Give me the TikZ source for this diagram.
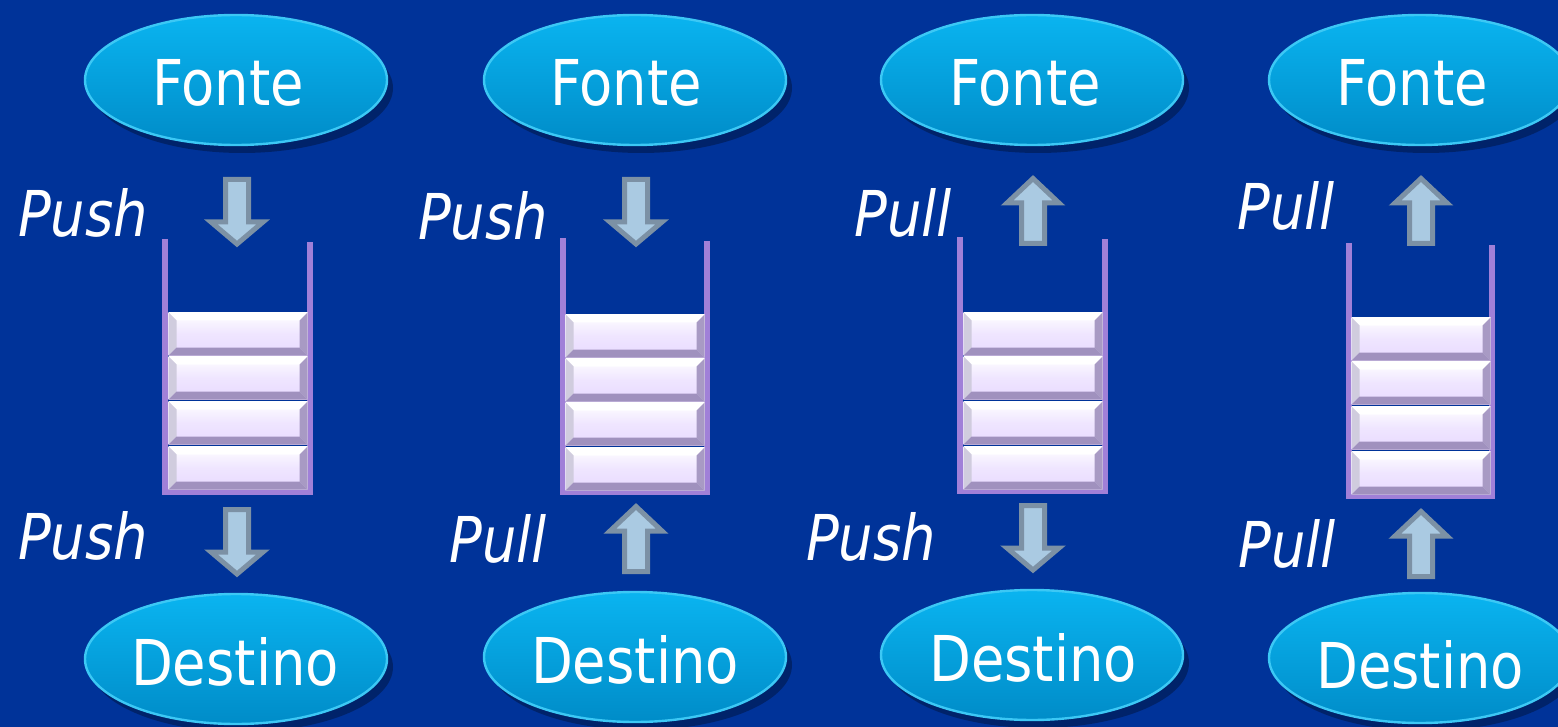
\documentclass[tikz,border=0pt]{standalone}
\usepackage{fontspec}
\setmainfont[FakeStretch=0.86]{DejaVu Sans}
\usetikzlibrary{shapes.geometric,shadows}

\definecolor{fundo}{RGB}{0,51,153}
\definecolor{cianoA}{RGB}{10,180,240}
\definecolor{cianoB}{RGB}{0,140,200}
\definecolor{cianoBorda}{RGB}{60,200,245}
\definecolor{lilas}{RGB}{232,218,255}
\definecolor{bevelEsq}{RGB}{208,204,222}
\definecolor{bevelDir}{RGB}{168,154,196}
\definecolor{bevelInf}{RGB}{160,145,190}
\definecolor{roxo}{RGB}{160,128,216}
\definecolor{setaFill}{RGB}{170,202,226}
\definecolor{setaBorda}{RGB}{124,145,165}

\tikzset{
  elipse/.style={shape=ellipse, top color=cianoA, bottom color=cianoB, draw=cianoBorda, line width=1.2pt,
    minimum width=151pt, minimum height=65pt, inner sep=0,
    drop shadow={shadow xshift=3pt, shadow yshift=-4pt, opacity=0.3, fill=black}},
  texto/.style={text=white, inner sep=0, font=\fontsize{31.6}{36}\selectfont},
  rotulo/.style={text=white, inner sep=0, font=\fontsize{31.6}{36}\selectfont\itshape},
  parede/.style={draw=roxo, line width=3pt},
  seta/.style={fill=setaFill, draw=setaBorda, line width=2.5pt},
  bloco/.style={shape=rectangle, inner sep=0, minimum width=69.5pt, minimum height=21.5pt,
    top color=white, bottom color=lilas, middle color=lilas!70!white,
    path picture={
      \fill[white] (path picture bounding box.north west) -- (path picture bounding box.north east)
        -- ([xshift=-4pt,yshift=-4pt]path picture bounding box.north east)
        -- ([xshift=4pt,yshift=-4pt]path picture bounding box.north west) -- cycle;
      \fill[bevelEsq] (path picture bounding box.north west) -- ([xshift=4pt,yshift=-4pt]path picture bounding box.north west)
        -- ([xshift=4pt,yshift=4pt]path picture bounding box.south west) -- (path picture bounding box.south west) -- cycle;
      \fill[bevelDir] (path picture bounding box.north east) -- ([xshift=-4pt,yshift=-4pt]path picture bounding box.north east)
        -- ([xshift=-4pt,yshift=4pt]path picture bounding box.south east) -- (path picture bounding box.south east) -- cycle;
      \fill[bevelInf] (path picture bounding box.south west) -- ([xshift=4pt,yshift=4pt]path picture bounding box.south west)
        -- ([xshift=-4pt,yshift=4pt]path picture bounding box.south east) -- (path picture bounding box.south east) -- cycle;
    }}
}

% block arrows: #1 = centre x, #2 = top (down) or tip (up)
\newcommand{\setabaixo}[2]{\draw[seta] (#1-11.5,#2+2.5) -- (#1+11.5,#2+2.5) -- (#1+11.5,#2+45) -- (#1+26,#2+45) -- (#1,#2+67) -- (#1-26,#2+45) -- (#1-11.5,#2+45) -- cycle;}
\newcommand{\setacima}[2]{\draw[seta] (#1,#2+3.5) -- (#1+26,#2+28) -- (#1+11.5,#2+28) -- (#1+11.5,#2+68.5) -- (#1-11.5,#2+68.5) -- (#1-11.5,#2+28) -- (#1-26,#2+28) -- cycle;}

\begin{document}
\begin{tikzpicture}[x=0.5pt, y=-0.5pt]
  \useasboundingbox (0,0) rectangle (1558,727);
  \fill[fundo] (0,0) rectangle (1558,727);

  % Fonte / Destino:
  \node[elipse] (fonte1) at (236,80){} node[texto] (tf1) at (228,83){Fonte};
  \node[elipse] (fonte2) at (635,80){} node[texto] (tf2) at (626,83){Fonte};
  \node[elipse] (fonte3) at (1032,80){} node[texto] (tf3) at (1025,83){Fonte};
  \node[elipse] (fonte4) at (1420,80){} node[texto] (tf4) at (1412,83){Fonte};
  \node[elipse] (destino1) at (236,659){} node[texto] (td1) at (235,662){Destino};
  \node[elipse] (destino2) at (635,657){} node[texto] (td2) at (635,660){Destino};
  \node[elipse] (destino3) at (1032,655){} node[texto] (td3) at (1033,658){Destino};
  \node[elipse] (destino4) at (1420,658){} node[texto] (td4) at (1420,665){Destino};

  % stacks:
  \draw[parede] (165,239) -- (165,492) -- (310,492) -- (310,242);
  \draw[parede] (563,238) -- (563,492) -- (707,492) -- (707,241);
  \draw[parede] (960,237) -- (960,491) -- (1105,491) -- (1105,239);
  \draw[parede] (1349,243) -- (1349,496) -- (1492,496) -- (1492,245);

  \node[bloco] (b11) at (238,334){};
  \node[bloco] (b12) at (238,378){};
  \node[bloco] (b13) at (238,423){};
  \node[bloco] (b14) at (238,468){};
  \node[bloco] (b21) at (635,336){};
  \node[bloco] (b22) at (635,380){};
  \node[bloco] (b23) at (635,424){};
  \node[bloco] (b24) at (635,469){};
  \node[bloco] (b31) at (1033,334){};
  \node[bloco] (b32) at (1033,378){};
  \node[bloco] (b33) at (1033,423){};
  \node[bloco] (b34) at (1033,468){};
  \node[bloco] (b41) at (1421,339){};
  \node[bloco] (b42) at (1421,383){};
  \node[bloco] (b43) at (1421,428){};
  \node[bloco] (b44) at (1421,473){};

  % arrows:
  \setabaixo{237}{177}
  \setabaixo{237}{507}
  \setabaixo{636}{177}
  \setacima{636}{503}
  \setacima{1033}{175}
  \setabaixo{1033}{503}
  \setacima{1421}{175}
  \setacima{1421}{508}

  % labels:
  \node[rotulo] (r1a) at (83,213){Push};
  \node[rotulo] (r1b) at (83,536){Push};
  \node[rotulo] (r2a) at (483,216){Push};
  \node[rotulo] (r2b) at (498,539){Pull};
  \node[rotulo] (r3a) at (903,213){Pull};
  \node[rotulo] (r3b) at (871,537){Push};
  \node[rotulo] (r4a) at (1286,206){Pull};
  \node[rotulo] (r4b) at (1287,544){Pull};
\end{tikzpicture}
\end{document}
